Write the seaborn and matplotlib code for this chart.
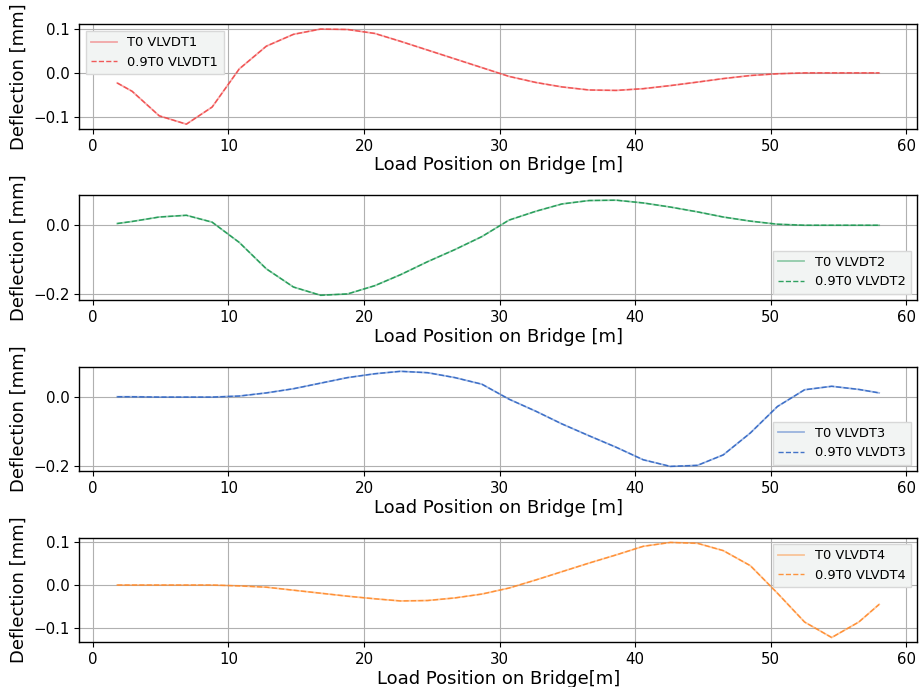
import numpy as np
import pandas as pd
import matplotlib
matplotlib.use("Agg")
import matplotlib.pyplot as plt
import seaborn as sns

# Load positions along the bridge [m]
load_pos = [1.8, 2.9, 4.9, 6.9, 8.8, 10.8, 12.8, 14.8, 16.8, 18.8,
            20.8, 22.7, 24.7, 26.7, 28.7, 30.7, 32.7, 34.6, 36.6, 38.6,
            40.6, 42.6, 44.6, 46.5, 48.5, 50.5, 52.5, 54.5, 56.5, 58.0]

# Deflection at each VLVDT sensor [mm], full tension T0
t0_vlvdt1 = [-0.023, -0.042, -0.098, -0.117, -0.078, 0.009, 0.061, 0.088, 0.100, 0.099,
             0.090, 0.072, 0.052, 0.032, 0.012, -0.008, -0.022, -0.032, -0.039, -0.040,
             -0.036, -0.029, -0.021, -0.013, -0.006, -0.002, 0.000, 0.000, 0.000, 0.000]
t0_vlvdt2 = [0.005, 0.011, 0.024, 0.029, 0.009, -0.050, -0.127, -0.180, -0.204, -0.200,
             -0.176, -0.144, -0.106, -0.071, -0.033, 0.015, 0.041, 0.062, 0.072, 0.073,
             0.065, 0.053, 0.039, 0.024, 0.012, 0.003, 0.000, 0.000, 0.000, 0.000]
t0_vlvdt3 = [0.000, 0.000, -0.001, -0.001, -0.001, 0.002, 0.011, 0.023, 0.039, 0.055,
             0.066, 0.073, 0.069, 0.055, 0.036, -0.007, -0.042, -0.078, -0.112, -0.145,
             -0.181, -0.200, -0.197, -0.167, -0.104, -0.028, 0.020, 0.030, 0.021, 0.011]
t0_vlvdt4 = [0.000, 0.000, 0.000, 0.000, 0.000, -0.002, -0.005, -0.012, -0.019, -0.026,
             -0.032, -0.037, -0.036, -0.030, -0.021, -0.007, 0.012, 0.031, 0.051, 0.070,
             0.090, 0.099, 0.097, 0.080, 0.045, -0.019, -0.086, -0.122, -0.086, -0.045]

# 0.9 T0 case - curves sit right on top of the T0 ones
t09_vlvdt1 = list(t0_vlvdt1)
t09_vlvdt2 = list(t0_vlvdt2)
t09_vlvdt3 = list(t0_vlvdt3)
t09_vlvdt4 = list(t0_vlvdt4)

SENSORS = ["VLVDT1", "VLVDT2", "VLVDT3", "VLVDT4"]
COLORS = ["#f04848", "#1a9850", "#2f65c4", "#ff8a2a"]
LEGEND_LOC = ["upper left", "lower right", "lower right", "upper right"]

plt.rcParams["font.family"] = "DejaVu Sans"

fig, axes = plt.subplots(4, 1, figsize=(9.2, 6.87), dpi=100)
fig.subplots_adjust(left=0.086, right=0.997, top=0.9646, bottom=0.0651, hspace=0.636)

t0_all = [t0_vlvdt1, t0_vlvdt2, t0_vlvdt3, t0_vlvdt4]
t09_all = [t09_vlvdt1, t09_vlvdt2, t09_vlvdt3, t09_vlvdt4]

for i, ax in enumerate(axes):
    df = pd.DataFrame({"pos": load_pos, "t0": t0_all[i], "t09": t09_all[i]})
    sns.lineplot(data=df, x="pos", y="t0", ax=ax, color=COLORS[i], alpha=0.45,
                 linewidth=1.3, label=f"T0 {SENSORS[i]}")
    sns.lineplot(data=df, x="pos", y="t09", ax=ax, color=COLORS[i], alpha=0.9,
                 linewidth=1.0, linestyle="--", label=f"0.9T0 {SENSORS[i]}")
    ax.grid(True, color="#b0b0b0", linewidth=0.8)
    ax.set_axisbelow(True)
    ax.set_ylabel("Deflection [mm]", fontsize=13)
    xlab = "Load Position on Bridge[m]" if i == 3 else "Load Position on Bridge [m]"
    ax.set_xlabel(xlab, fontsize=13, labelpad=2)
    ax.tick_params(labelsize=10.8)
    ax.set_xticks([0, 10, 20, 30, 40, 50, 60])
    for s in ax.spines.values():
        s.set_color("black")
        s.set_linewidth(1.0)
    ax.legend(loc=LEGEND_LOC[i], fontsize=9.4, facecolor="#f2f4f3",
              edgecolor="#d8d8d8", framealpha=1.0, fancybox=False)

plt.savefig("out.png", dpi=100)
